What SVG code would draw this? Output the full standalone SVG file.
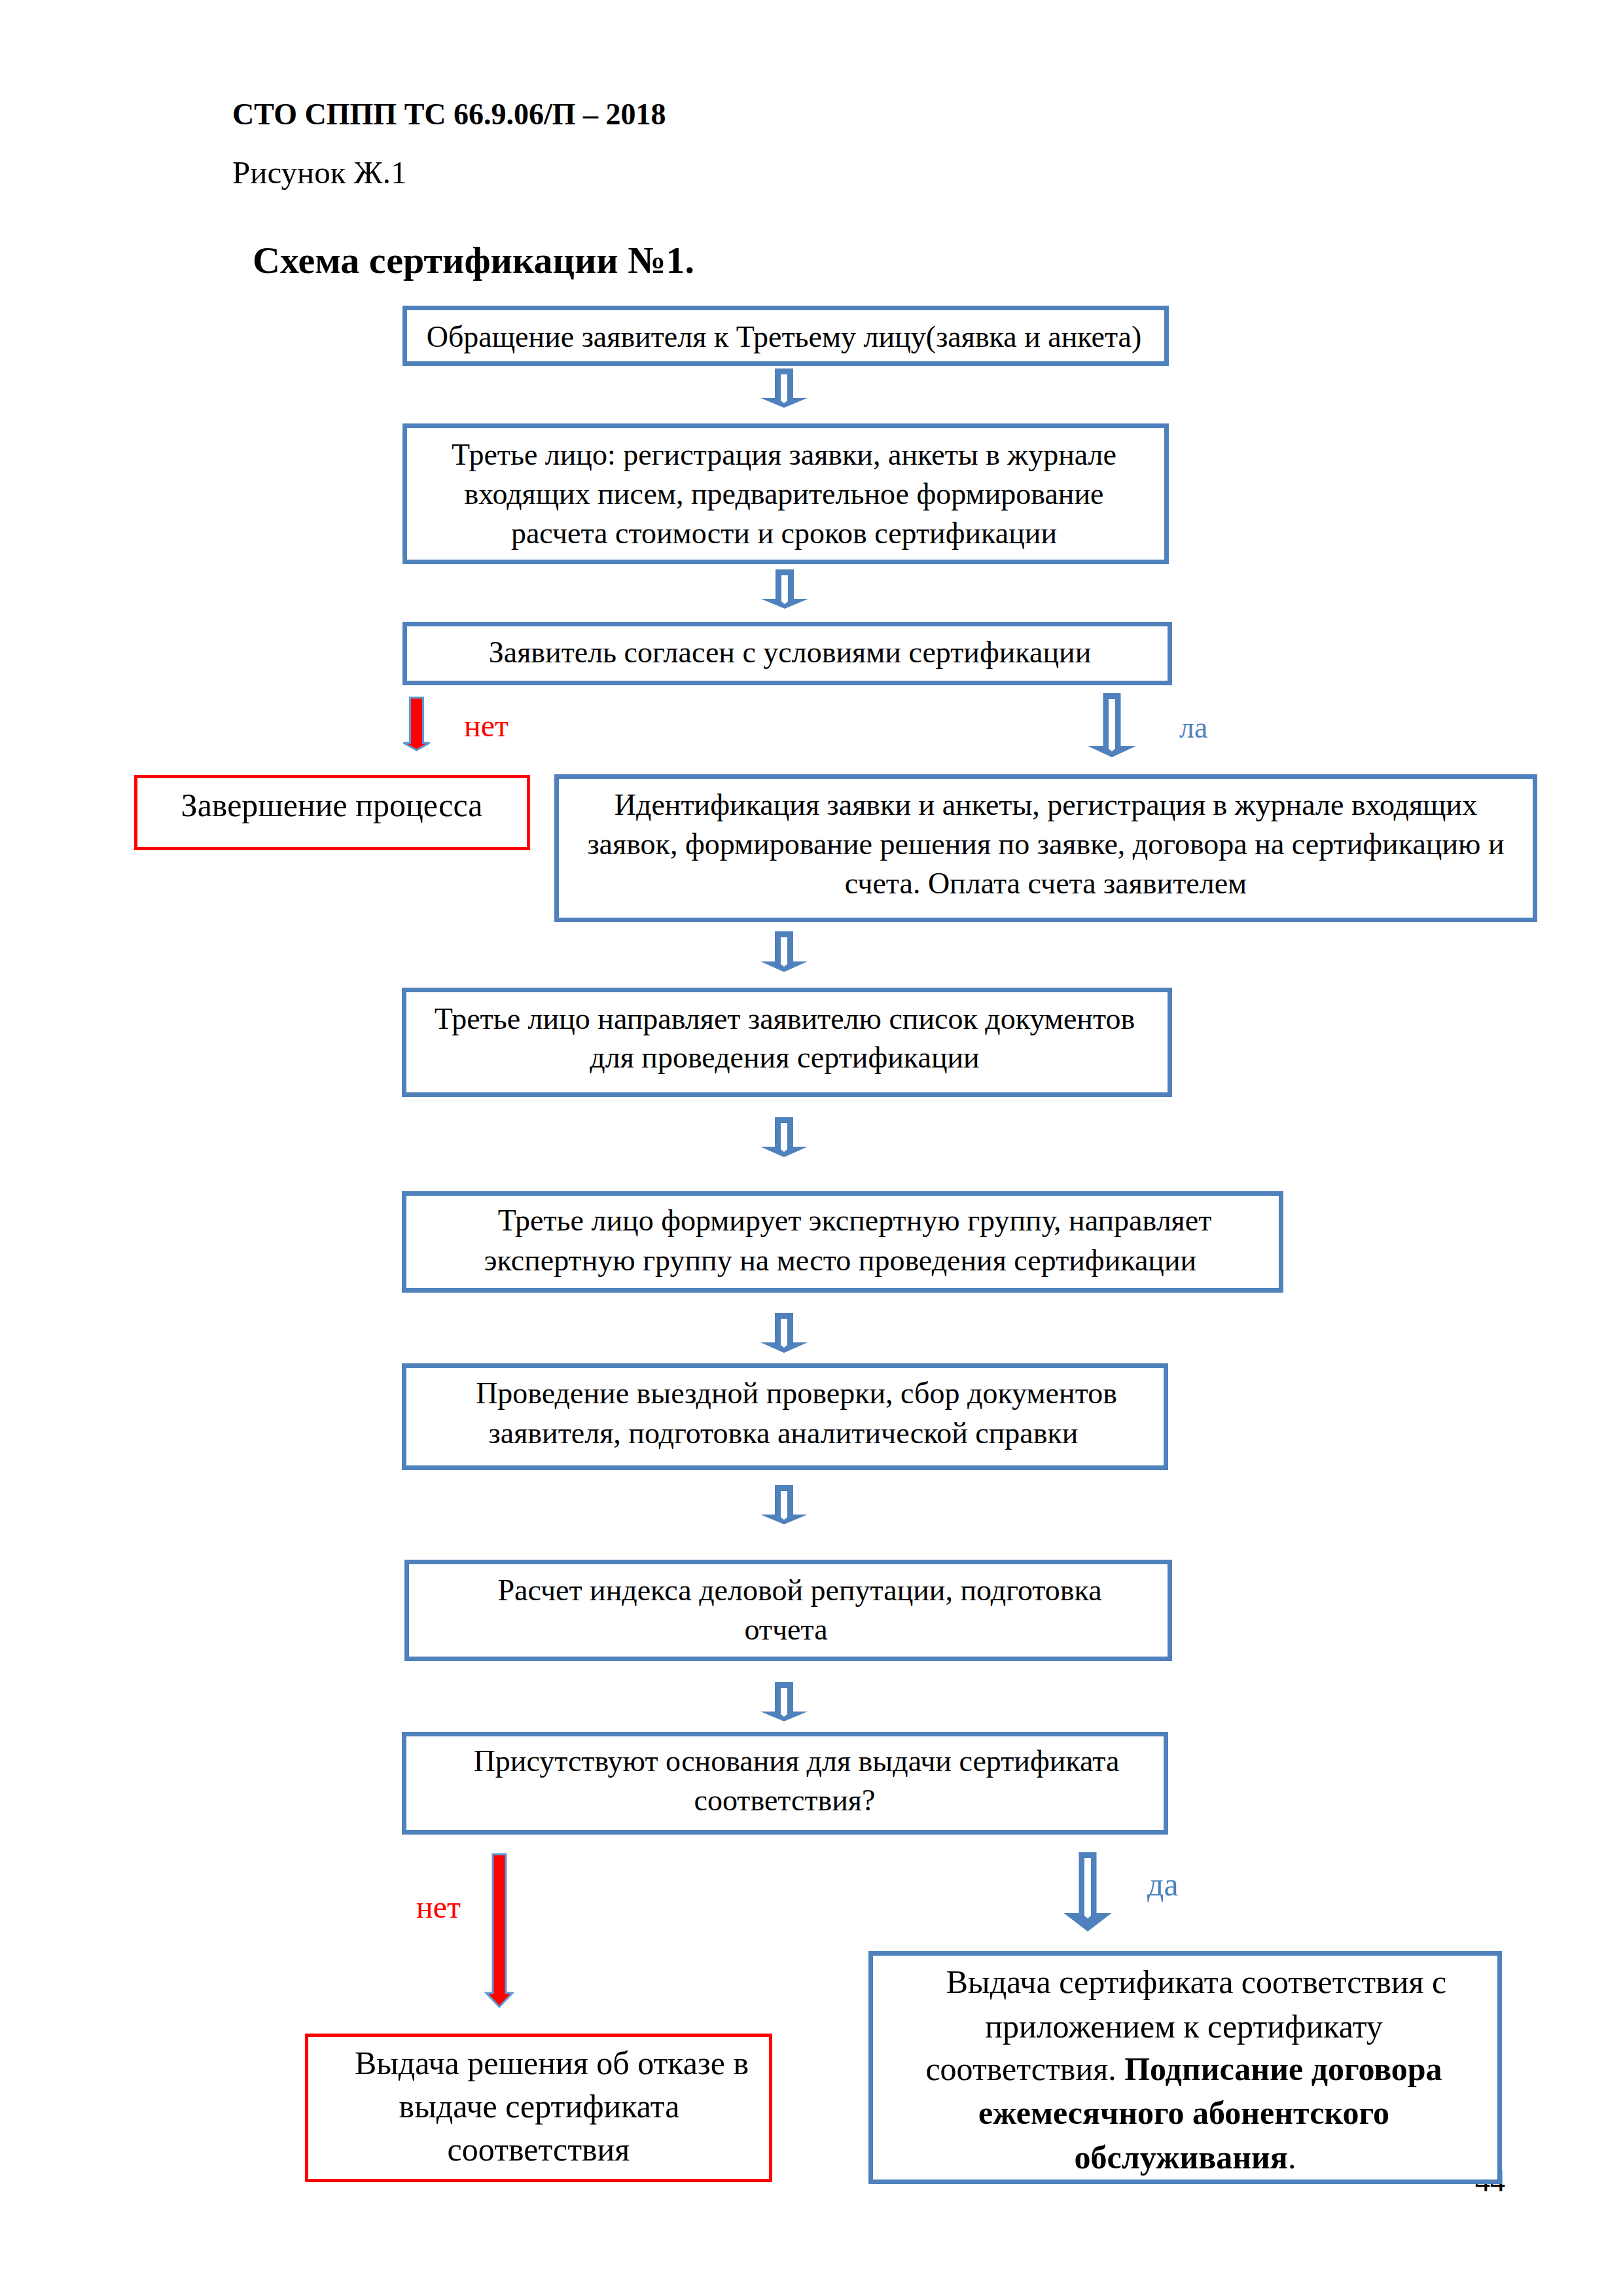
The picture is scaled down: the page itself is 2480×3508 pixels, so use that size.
<svg xmlns="http://www.w3.org/2000/svg" width="2480" height="3508" viewBox="0 0 2480 3508">
<style>
text{font-family:"Liberation Serif","Times New Roman",serif;fill:#000}
.t46{font-size:46px}
.t50{font-size:50px}
.c{text-anchor:middle}
.b{font-weight:bold}
.bn{fill:#fff;stroke:#4F81BD;stroke-width:7}
.rn{fill:#fff;stroke:#FF0000;stroke-width:5}
.ba{fill:#4F81BD}
.bi{fill:#fff}
.ra{fill:#FF0000;stroke:#5B9BD5;stroke-width:3;stroke-linejoin:miter}
.red{fill:#FF0000}
.blue{fill:#4F81BD}
</style>
<rect x="0" y="0" width="2480" height="3508" fill="#fff"/>
<g id="header">
<text x="355" y="190" class="b" font-size="46">СТО СППП ТС 66.9.06/П – 2018</text>
<text x="355" y="280" font-size="49">Рисунок Ж.1</text>
<text x="386" y="417" class="b" font-size="58">Схема сертификации №1.</text>
</g>
<text id="page-number" x="2254" y="3348" class="t46">44</text>
<g id="connectors">
<path class="ba" d="M1184,563H1212V608H1234L1198,623L1162,608H1184Z"/><path class="bi" d="M1193,572H1203V612L1198,616L1193,612Z"/>
<path class="ba" d="M1185,870H1213V915H1235L1199,930L1163,915H1185Z"/><path class="bi" d="M1194,879H1204V919L1199,923L1194,919Z"/>
<path class="ra" d="M626.5,1066H646.5V1135H656.5L636.5,1146L616.5,1135H626.5Z"/>
<path class="ba" d="M1685.5,1059H1712.5V1140H1735.5L1699,1157L1662.5,1140H1685.5Z"/><path class="bi" d="M1694,1068H1704V1144L1699,1148L1694,1144Z"/>
<text x="709" y="1125" class="red" font-size="48">нет</text>
<text x="1802" y="1127" class="blue" font-size="46">ла</text>
<path class="ba" d="M1184,1423H1212V1469H1234L1198,1485L1162,1469H1184Z"/><path class="bi" d="M1193,1432H1203V1473L1198,1477L1193,1473Z"/>
<path class="ba" d="M1184,1707H1212V1752H1234L1198,1768L1162,1752H1184Z"/><path class="bi" d="M1193,1716H1203V1756L1198,1760L1193,1756Z"/>
<path class="ba" d="M1184,2006H1212V2051H1234L1198,2067L1162,2051H1184Z"/><path class="bi" d="M1193,2015H1203V2055L1198,2059L1193,2055Z"/>
<path class="ba" d="M1184,2269H1212V2314H1234L1198,2329L1162,2314H1184Z"/><path class="bi" d="M1193,2278H1203V2318L1198,2322L1193,2318Z"/>
<path class="ba" d="M1184,2570H1212V2615H1234L1198,2630L1162,2615H1184Z"/><path class="bi" d="M1193,2579H1203V2619L1198,2623L1193,2619Z"/>
<path class="ra" d="M753,2833H773V3045H783L763,3066L743,3045H753Z"/>
<path class="ba" d="M1648.5,2830H1675.5V2923H1698.5L1662,2951L1625.5,2923H1648.5Z"/><path class="bi" d="M1657,2839H1667V2927L1662,2931L1657,2927Z"/>
<text x="636" y="2930" class="red" font-size="48">нет</text>
<text x="1753" y="2896" class="blue" font-size="50">да</text>
</g>
<g id="n1">
<rect class="bn" x="618.5" y="470.5" width="1164" height="85"/>
<text class="t46 c" x="1198" y="530">Обращение заявителя к Третьему лицу(заявка и анкета)</text>
</g>
<g id="n2">
<rect class="bn" x="618.5" y="650.5" width="1164" height="208"/>
<text class="t46 c" x="1198" y="710">Третье лицо: регистрация заявки, анкеты в журнале</text>
<text class="t46 c" x="1198" y="770">входящих писем, предварительное формирование</text>
<text class="t46 c" x="1198" y="830">расчета стоимости и сроков сертификации</text>
</g>
<g id="n3">
<rect class="bn" x="618.5" y="953.5" width="1169" height="90"/>
<text class="t46 c" x="1207" y="1012">Заявитель согласен с условиями сертификации</text>
</g>
<g id="n4">
<rect class="rn" x="207.5" y="1186.5" width="600" height="110"/>
<text class="t50 c" x="507" y="1247">Завершение процесса</text>
</g>
<g id="n5">
<rect class="bn" x="850.5" y="1186.5" width="1495" height="219"/>
<text class="t46 c" x="1598" y="1245">Идентификация заявки и анкеты, регистрация в журнале входящих</text>
<text class="t46 c" x="1598" y="1305">заявок, формирование решения по заявке, договора на сертификацию и</text>
<text class="t46 c" x="1598" y="1365">счета. Оплата счета заявителем</text>
</g>
<g id="n6">
<rect class="bn" x="617.5" y="1512.5" width="1170" height="160"/>
<text class="t46 c" x="1199" y="1572">Третье лицо направляет заявителю список документов</text>
<text class="t46 c" x="1199" y="1631">для проведения сертификации</text>
</g>
<g id="n7">
<rect class="bn" x="617.5" y="1823.5" width="1340" height="148"/>
<text class="t46 c" x="1306" y="1880">Третье лицо формирует экспертную группу, направляет</text>
<text class="t46 c" x="1284" y="1941">экспертную группу на место проведения сертификации</text>
</g>
<g id="n8">
<rect class="bn" x="617.5" y="2086.5" width="1164" height="156"/>
<text class="t46 c" x="1217" y="2144">Проведение выездной проверки, сбор документов</text>
<text class="t46 c" x="1197" y="2205">заявителя, подготовка аналитической справки</text>
</g>
<g id="n9">
<rect class="bn" x="621.5" y="2386.5" width="1166" height="148"/>
<text class="t46 c" x="1222" y="2445">Расчет индекса деловой репутации, подготовка</text>
<text class="t46 c" x="1201" y="2505">отчета</text>
</g>
<g id="n10">
<rect class="bn" x="617.5" y="2649.5" width="1164" height="150"/>
<text class="t46 c" x="1217" y="2706">Присутствуют основания для выдачи сертификата</text>
<text class="t46 c" x="1199" y="2766">соответствия?</text>
</g>
<g id="n11">
<rect class="rn" x="468.5" y="3109.5" width="709" height="222"/>
<text class="t50 c" x="843" y="3169">Выдача решения об отказе в</text>
<text class="t50 c" x="824" y="3235">выдаче сертификата</text>
<text class="t50 c" x="823" y="3301">соответствия</text>
</g>
<g id="n12">
<rect class="bn" x="1330.5" y="2984.5" width="961" height="349"/>
<text class="t50 c" x="1828" y="3045">Выдача сертификата соответствия с</text>
<text class="t50 c" x="1809" y="3113">приложением к сертификату</text>
<text class="t50 c" x="1809" y="3178">соответствия. <tspan class="b">Подписание договора</tspan></text>
<text class="t50 c b" x="1809" y="3245">ежемесячного абонентского</text>
<text class="t50 c" x="1811" y="3313"><tspan class="b">обслуживания</tspan>.</text>
</g>
</svg>
